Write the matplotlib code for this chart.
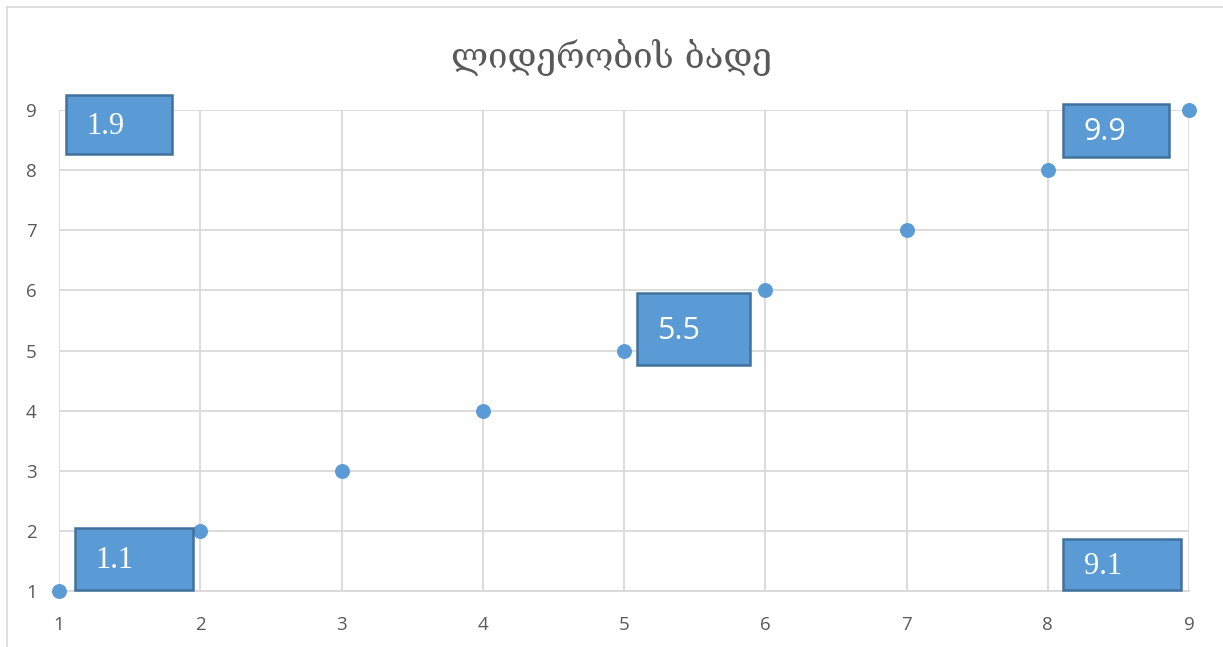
import matplotlib.pyplot as plt
from matplotlib.patches import Rectangle
from matplotlib.lines import Line2D

# 数据
x_vals = [1, 2, 3, 4, 5, 6, 7, 8, 9]
y_vals = [1, 2, 3, 4, 5, 6, 7, 8, 9]
box_labels = ['1.9', '1.1', '5.5', '9.9', '9.1']
x_ticks = [1, 2, 3, 4, 5, 6, 7, 8, 9]
y_ticks = [1, 2, 3, 4, 5, 6, 7, 8, 9]
title = 'ლიდერობის ბადე'

# 方框位置 (x0, y0, x1, y1)，以及字体
box_extents = [
    (1.05, 8.27, 1.80, 9.25),
    (1.11, 1.02, 1.95, 2.05),
    (5.09, 4.76, 5.89, 5.96),
    (8.11, 8.22, 8.86, 9.10),
    (8.11, 1.02, 8.94, 1.87),
]
box_fonts = ['Liberation Serif', 'Liberation Serif', 'Open Sans', 'Open Sans', 'Liberation Serif']

fig = plt.figure(figsize=(12.23, 6.47), dpi=100)
ax = fig.add_axes([59 / 1223, 1 - 591 / 647, (1189 - 59) / 1223, (591 - 110) / 647])

grid_c = '#d9d9d9'
text_c = '#595959'

ax.set_xlim(1, 9)
ax.set_ylim(1, 9)
ax.set_xticks(x_ticks)
ax.set_yticks(y_ticks)
ax.grid(True, color=grid_c, linewidth=1.3)
ax.set_axisbelow(True)
for s in ax.spines.values():
    s.set_visible(False)
ax.spines['bottom'].set_visible(True)
ax.spines['bottom'].set_color(grid_c)
ax.spines['bottom'].set_linewidth(1.3)
ax.tick_params(length=0, labelsize=13.5, labelcolor=text_c)
ax.tick_params(axis='x', pad=18)
ax.tick_params(axis='y', pad=16)
for lab in ax.get_xticklabels() + ax.get_yticklabels():
    lab.set_fontfamily('Open Sans')

ax.scatter(x_vals, y_vals, s=95, color='#5b9bd5', zorder=3, clip_on=False)

# 文本框
for (x0, y0, x1, y1), lab, fnt in zip(box_extents, box_labels, box_fonts):
    ax.add_patch(Rectangle((x0, y0), x1 - x0, y1 - y0, facecolor='#5b9bd5',
                           edgecolor='#41719c', linewidth=1.8, zorder=4, clip_on=False))
    ax.text(x0 + 0.145, (y0 + y1) / 2 - 0.03, lab, color='white', fontsize=22,
            family=fnt, ha='left', va='center', zorder=5)

fig.text(0.5, 1 - 58 / 647, title, ha='center', va='center', fontsize=25,
         color=text_c, family=['DejaVu Serif', 'DejaVu Sans'])

# 外框
fig.add_artist(Line2D([6.5 / 1223, 1], [1 - 7 / 647, 1 - 7 / 647], color=grid_c, linewidth=1.2))
fig.add_artist(Line2D([6.5 / 1223, 6.5 / 1223], [0, 1 - 7 / 647], color=grid_c, linewidth=1.2))

fig.savefig('out.png', dpi=100)
